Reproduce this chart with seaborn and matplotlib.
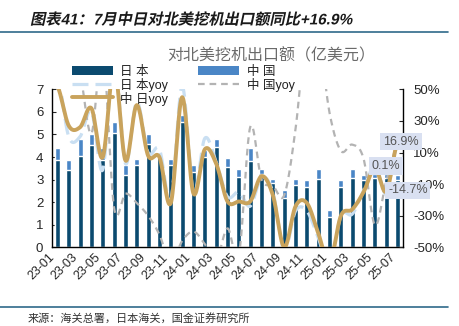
import numpy as np
import pandas as pd
import matplotlib
matplotlib.use("Agg")
import matplotlib.pyplot as plt
import seaborn as sns
from matplotlib.patheffects import AbstractPathEffect
from matplotlib.transforms import Affine2D
from matplotlib.lines import Line2D
from matplotlib.patches import Rectangle

# ---------------- data ----------------
months = ["23-01", "23-02", "23-03", "23-04", "23-05", "23-06", "23-07", "23-08",
          "23-09", "23-10", "23-11", "23-12", "24-01", "24-02", "24-03", "24-04",
          "24-05", "24-06", "24-07", "24-08", "24-09", "24-10", "24-11", "24-12",
          "25-01", "25-02", "25-03", "25-04", "25-05", "25-06", "25-07"]

japan = [3.88, 3.43, 4.04, 4.52, 3.88, 5.07, 3.19, 3.63, 4.57, 4.00, 3.66, 5.53,
         3.35, 4.00, 4.45, 3.57, 3.10, 3.83, 3.23, 2.83, 2.17, 2.75, 2.65, 3.04,
         1.35, 2.68, 3.08, 2.98, 3.05, 3.05, 3.00]

china = [0.50, 0.44, 0.74, 0.52, 0.50, 0.47, 0.47, 0.30, 0.43, 0.11, 0.26, 0.32,
         0.29, 0.30, 0.33, 0.37, 0.35, 0.58, 0.26, 0.18, 0.36, 0.29, 0.32, 0.45,
         0.30, 0.32, 0.41, 0.22, 0.20, 0.20, 0.20]

japan_yoy = [60, 20, 20, 36, -1, 70, 3, 42, 10, 12, -20, 52,
             -15, 19, 4, -18, -15, -24, -6, -15, -52, -27, -27, -44,
             -62, -30, -29, -14, 2, -16, 16]

china_yoy = [80, 75, 60, 22, 75, -25, -16, -22, -30, -42, -60, -46,
             -40, -48, -58, -38, -55, 26, -7, -11, -17, 25, 90, 85,
             35, 11, 15, 6, -36, -8, 15]

cj_yoy = [52, 27, 26, 38, 7, 65, 5, 40, 8, 7, -22, 45,
          -16, 12, 3, -21, -21, -21, -5, -17, -50, -24, -22, -41,
          -60, -30, -26, -15, 0.1, -14.7, 16.9]

labels_pct = ["16.9%", "0.1%", "-14.7%"]
legend_labels = ["日 本", "中 国", "日 本yoy", "中 国yoy", "中 日yoy"]

# ---------------- style ----------------
sns.set_style("white")
plt.rcParams["font.family"] = ["Liberation Sans", "Noto Sans CJK SC", "DejaVu Sans"]
plt.rcParams["axes.unicode_minus"] = False

C_JP = "#0b4a6f"
C_CN = "#4a86c6"
C_JPY = "#c9dff2"
C_CNY = "#b3b3b3"
C_CJ = "#c9a35c"
C_RULE = "#2f6a8a"

W, H = 460, 326
fig = plt.figure(figsize=(W / 100, H / 100), dpi=100)

L, R, T, B = 51.7, 403.3, 89.3, 247.3
ax = fig.add_axes([L / W, 1 - B / H, (R - L) / W, (B - T) / H])

df = pd.DataFrame({"month": months, "japan": japan, "china": china})
df["total"] = df["japan"] + df["china"]

sns.barplot(data=df, x="month", y="total", color=C_CN, saturation=1, width=0.45, ax=ax)
sns.barplot(data=df, x="month", y="japan", color=C_JP, saturation=1, width=0.45, ax=ax)

ax.set_xlim(-0.5, len(months) - 0.5)
ax.set_ylim(0, 7)
ax.set_yticks(range(0, 8))
ax.set_xlabel("")
ax.set_ylabel("")
ax.set_xticks(range(0, len(months), 2))
ax.set_xticklabels(months[::2], rotation=45, ha="right", rotation_mode="default", fontsize=9)
ax.set_xticks(np.arange(1.5, len(months) - 1, 2), minor=True)
ax.tick_params(axis="x", which="major", length=0, pad=3)
ax.tick_params(axis="x", which="minor", length=3, direction="in", width=0.8)
ax.tick_params(axis="y", length=3, direction="in", width=0.8, labelsize=9.5, pad=6)
for s in ["top", "right"]:
    ax.spines[s].set_visible(False)
for s in ["left", "bottom"]:
    ax.spines[s].set_color("black")
    ax.spines[s].set_linewidth(1)


def smooth(y, n=20):
    """Catmull-Rom rendering of the line through the data points."""
    y = np.asarray(y, dtype=float)
    x = np.arange(len(y), dtype=float)
    p = np.r_[y[0], y, y[-1]]
    xs, ys = [], []
    for i in range(len(y) - 1):
        p0, p1, p2, p3 = p[i], p[i + 1], p[i + 2], p[i + 3]
        t = np.linspace(0, 1, n, endpoint=False)
        yy = 0.5 * ((2 * p1) + (-p0 + p2) * t + (2 * p0 - 5 * p1 + 4 * p2 - p3) * t ** 2
                    + (-p0 + 3 * p1 - 3 * p2 + p3) * t ** 3)
        xs.append(x[i] + t)
        ys.append(yy)
    xs.append([x[-1]])
    ys.append([y[-1]])
    return np.concatenate(xs), np.concatenate(ys)


ax2 = ax.twinx()
ax2.set_ylim(-50, 50)
ax2.set_xlim(-0.5, len(months) - 0.5)

JPY_STYLE = dict(color=C_JPY, lw=2.3, dashes=(5, 2.2))
CNY_STYLE = dict(color=C_CNY, lw=1.6, dashes=(3, 2.2))
CJ_STYLE = dict(color=C_CJ, lw=2.8)

xj, yj = smooth(japan_yoy)
ax2.plot(xj, yj, **JPY_STYLE)
xc, yc = smooth(china_yoy)
ax2.plot(xc, yc, **CNY_STYLE)
xg, yg = smooth(cj_yoy)
ax2.plot(xg, yg, **CJ_STYLE)

ax2.set_yticks([50, 30, 10, -10, -30, -50])
ax2.set_yticklabels([f"{v}%" for v in [50, 30, 10, -10, -30, -50]])
ax2.tick_params(axis="y", length=3, direction="in", width=0.8, labelsize=9.5, pad=7)
for s in ["top", "left", "bottom"]:
    ax2.spines[s].set_visible(False)
ax2.spines["right"].set_color("black")
ax2.spines["right"].set_linewidth(1)

box = dict(boxstyle="square,pad=0.22", fc="#d9e0f1", ec="none")
ann_pos = [(30.3, 16.9), (29.0, 1.4), (30.9, -14.0)]
for (xp, yp), t in zip(ann_pos, labels_pct):
    ax2.text(xp, yp, t, ha="center", va="center", fontsize=9, color="#555555",
             bbox=box, zorder=10, clip_on=False)

# ---------------- legend (drawn in figure pixels) ----------------
def fx(px):
    return px / W


def fy(py):
    return 1 - py / H


rows = [70, 83.5, 97.5]
cols = [(72, 113, 120), (198, 239, 247)]
items = [("patch", C_JP, 0, 0), ("patch", C_CN, 0, 1),
         ("line", JPY_STYLE, 1, 0), ("line", CNY_STYLE, 1, 1),
         ("line", CJ_STYLE, 2, 0)]
for (kind, sty, r, c), lab in zip(items, legend_labels):
    x0, x1, xt = cols[c]
    y = rows[r]
    if kind == "patch":
        fig.add_artist(Rectangle((fx(x0), fy(y + 4.5)), fx(x1) - fx(x0), 9 / H,
                                 transform=fig.transFigure, color=sty, lw=0))
    else:
        fig.add_artist(Line2D([fx(x0), fx(x1)], [fy(y), fy(y)], transform=fig.transFigure, **sty))
    fig.text(fx(xt), fy(y), lab, fontsize=9, color="#222222", ha="left", va="center_baseline")

# ---------------- titles and rules ----------------


class Skew(AbstractPathEffect):
    def __init__(self, deg=12):
        super().__init__()
        self.deg = deg

    def draw_path(self, renderer, gc, tpath, affine, rgbFace=None):
        m = affine.get_matrix()
        ty = m[1, 2]
        sk = Affine2D().translate(0, -ty).skew_deg(self.deg, 0).translate(0, ty)
        renderer.draw_path(gc, tpath, affine + sk, rgbFace)


fig.text(30 / W, 1 - 20 / H, "图表41：7月中日对北美挖机出口额同比+16.9%", fontsize=11,
         fontweight="bold", color="#1a1a1a", va="center", ha="left",
         path_effects=[Skew(12)])
fig.add_artist(Line2D([0, 448 / W], [1 - 32 / H] * 2, color=C_RULE, lw=1.2))
fig.text(271 / W, 1 - 56 / H, "对北美挖机出口额（亿美元）", fontsize=11.5, color="#6b6b6b",
         ha="center", va="center")
fig.add_artist(Line2D([0, 448 / W], [1 - 307 / H] * 2, color=C_RULE, lw=1.2))
fig.text(28 / W, 1 - 318 / H, "来源：海关总署，日本海关，国金证券研究所", fontsize=8,
         color="#333333", ha="left", va="center")

fig.savefig("out.png", dpi=100)
